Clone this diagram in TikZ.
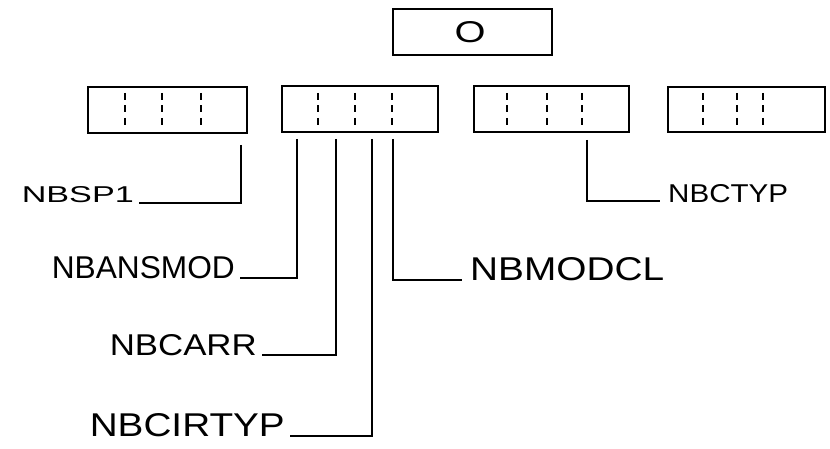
\documentclass[tikz,border=0pt]{standalone}
\usepackage{fontspec}
\setsansfont{Liberation Sans}
\begin{document}
\begin{tikzpicture}[x=1pt,y=-1pt,
  ink/.style={line width=2.2pt, black},
  rec/.style={ink, draw, inner sep=0pt, anchor=north west},
  tick/.style={line width=2.4pt, dash pattern=on 7pt off 5.5pt},
  lblL/.style={anchor=base east, inner xsep=5pt, inner ysep=0pt, font=\sffamily},
  lblR/.style={anchor=base west, inner xsep=8pt, inner ysep=0pt, font=\sffamily},
  conn/.style={ink}]
\useasboundingbox (0,0) rectangle (830,449);
% top box
\node[rec, minimum width=159pt, minimum height=46pt] (top) at (392,8) {};
\node[inner sep=0pt, font=\sffamily] (o) at (470,32) {\resizebox{31pt}{21pt}{O}};
% row of boxes
\node[rec, minimum width=159pt, minimum height=46pt] (b1) at (87,86) {};
\node[rec, minimum width=156pt, minimum height=46pt] (b2) at (281,85) {};
\node[rec, minimum width=155pt, minimum height=46pt] (b3) at (473,85) {};
\node[rec, minimum width=157pt, minimum height=45pt] (b4) at (667,86) {};
\foreach \x in {125,162,201,318,355,392,507,547,582,703,737,763}
  \draw[tick] (\x,93) -- (\x,125);
% connector tops
\coordinate (t1) at (241,145);
\coordinate (t2) at (297,139);
\coordinate (t3) at (336,139);
\coordinate (t4) at (372,139);
\coordinate (t5) at (393,139);
\coordinate (t6) at (587,140);
% labels
\node[lblL] (sp1) at (139,203) {\resizebox{112pt}{16pt}{NBSP1}};
\node[lblL] (ans) at (240,278) {\resizebox{183pt}{22pt}{NBANSMOD}};
\node[lblL] (car) at (262,355) {\resizebox{147pt}{21pt}{NBCARR}};
\node[lblL] (cir) at (290,436) {\resizebox{195pt}{23pt}{NBCIRTYP}};
\node[lblR] (mod) at (462,280) {\resizebox{194pt}{23pt}{NBMODCL}};
\node[lblR] (cty) at (660,203) {\resizebox{120pt}{18pt}{NBCTYP}};
% connectors
\draw[conn] (t1) |- (sp1.base east);
\draw[conn] (t2) |- (ans.base east);
\draw[conn] (t3) |- (car.base east);
\draw[conn] (t4) |- (cir.base east);
\draw[conn] (t5) |- (mod.base west);
\draw[conn] (t6) |- ([yshift=2pt]cty.base west);
\end{tikzpicture}
\end{document}
